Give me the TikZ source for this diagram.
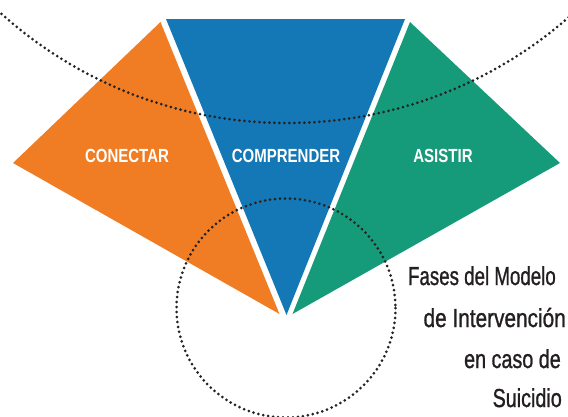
\documentclass[tikz,border=0pt]{standalone}
\usepackage{fontspec}
\usepackage{graphicx}
\setmainfont{Liberation Sans}
\newfontfamily\labfont[FakeStretch=0.79]{Liberation Sans}
\newfontfamily\capfont[FakeBold=1.2]{Liberation Sans}
\definecolor{corange}{RGB}{240,125,35}
\definecolor{cblue}{RGB}{20,120,183}
\definecolor{cgreen}{RGB}{22,155,122}
\definecolor{cdots}{RGB}{35,35,35}
\definecolor{ctext}{RGB}{35,31,32}
\begin{document}
\begin{tikzpicture}[x=1pt,y=-1pt,
  phase/.style={font=\labfont\bfseries\fontsize{19}{19}\selectfont, text=white, inner sep=0pt, anchor=base},
  capline/.style={font=\capfont\fontsize{26}{26}\selectfont, text=ctext, inner sep=0pt, anchor=base east},
  dotline/.style={draw=cdots, line width=3pt, line cap=round, dash pattern=on 0pt off 5pt}]
\useasboundingbox (0,0) rectangle (568,416);
\begin{scope}
\clip (0,0) rectangle (568,416);
% pieces
\fill[corange] (160.5,22) -- (13,163) -- (279.5,314) -- cycle;
\fill[cblue] (166,19) -- (405,19) -- (286.5,315) -- cycle;
\fill[cgreen] (410,22) -- (560,163) -- (292.5,314) -- cycle;
% dotted circles
\coordinate (bigc) at (287,-305);
\coordinate (smallc) at (286,308);
\draw[dotline] (bigc) circle[radius=428];
\draw[dotline] (smallc) circle[radius=109.5];
\end{scope}
% labels
\node[phase] (conectar) at (127,162) {CONECTAR};
\node[phase] (comprender) at (286,162) {COMPRENDER};
\node[phase] (asistir) at (443,162) {ASISTIR};
% caption
\node[capline] (l1) at (556,285) {\scalebox{0.72}[1]{Fases del Modelo}};
\node[capline] (l2) at (566,327) {\scalebox{0.80}[1]{de Intervención}};
\node[capline] (l3) at (561,368) {\scalebox{0.76}[1]{en caso de}};
\node[capline] (l4) at (562,407) {\scalebox{0.76}[1]{Suicidio}};
\end{tikzpicture}
\end{document}
